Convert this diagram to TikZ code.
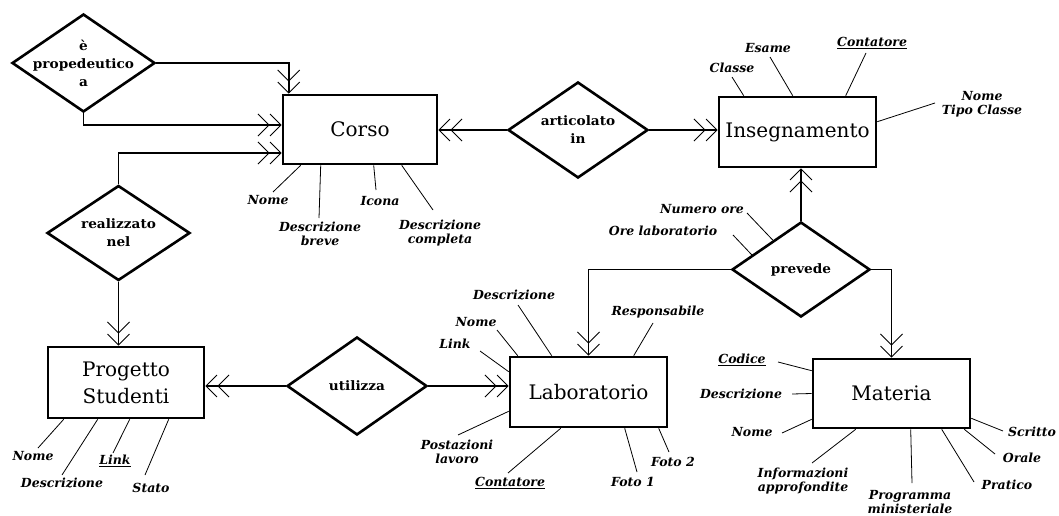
\documentclass[tikz,border=0pt]{standalone}
\usepackage{fontspec}
\setmainfont{DejaVu Serif}
\newfontfamily\relfont[FakeStretch=1.05]{DejaVu Serif}
\usetikzlibrary{shapes.geometric,arrows.meta,calc}
\begin{document}
\begin{tikzpicture}[x=1pt,y=-1pt,
 entity/.style={draw,line width=2.6pt,rectangle,inner sep=0pt,font=\fontsize{20}{27}\selectfont,align=center},
 rel/.style={draw,line width=2.6pt,diamond,inner sep=0pt,aspect=1.5},
 reltext/.style={font=\relfont\bfseries\fontsize{13}{18}\selectfont,align=center,inner sep=0pt},
 conn/.style={line width=1.8pt},
 crow/.style={conn,-{Straight Barb[length=11pt,width=22pt,line width=0.9pt] Straight Barb[length=11pt,width=22pt,line width=0.9pt]}},
 attr/.style={font=\bfseries\itshape\fontsize{12.5}{14.5}\selectfont,align=center,inner sep=0pt},
 aline/.style={line width=0.8pt}
]
\useasboundingbox[fill=white] (0,0) rectangle (1059,516);

% entities
\node[entity,minimum width=154pt,minimum height=69pt] (corso) at (360,129.5) {Corso};
\node[entity,minimum width=157pt,minimum height=70pt] (ins) at (797.5,132) {Insegnamento};
\node[entity,minimum width=156pt,minimum height=71pt] (prog) at (126,382.5) {Progetto\\Studenti};
\node[entity,minimum width=157pt,minimum height=70pt] (lab) at (588.5,392) {Laboratorio};
\node[entity,minimum width=157pt,minimum height=69pt] (mat) at (891.5,393.5) {Materia};

% relationships
\node[rel,minimum width=143pt,minimum height=98pt,label={[reltext]center:è\\propedeutico\\a}] (prop) at (83.5,63) {};
\node[rel,minimum width=143pt,minimum height=95pt,label={[reltext]center:realizzato\\nel}] (real) at (118.5,233) {};
\node[rel,minimum width=140pt,minimum height=96pt,label={[reltext]center:articolato\\in}] (art) at (578,130) {};
\node[rel,minimum width=140pt,minimum height=98pt,label={[reltext]center:utilizza}] (util) at (357,386) {};
\node[rel,minimum width=138pt,minimum height=95pt,label={[reltext]center:prevede}] (prev) at (801,269.5) {};

% connectors
\draw[crow] (prop.east) -| ($(corso.north west)+(7,0)$);
\draw[crow] (prop.south) |- ($(corso.west)+(0,-4.5)$);
\draw[crow] (real.north) |- ($(corso.west)+(0,23.5)$);
\draw[crow] (real.south) -- (real.south |- prog.north);
\draw[crow] (art.west) -- (art.west -| corso.east);
\draw[crow] (art.east) -- (art.east -| ins.west);
\draw[crow] (prev.north) -- (prev.north |- ins.south);
\draw[crow] (prev.west) -| (lab.north);
\draw[crow] (prev.east) -| (mat.north);
\draw[crow] (util.west) -- (util.west -| prog.east);
\draw[crow] (util.east) -- (util.east -| lab.west);

% Corso attributes
\node[attr] (cNome) at (268,200) {Nome};
\node[attr] (cDb) at (320,234) {Descrizione\\breve};
\node[attr] (cIc) at (380,201) {Icona};
\node[attr] (cDc) at (440,233) {Descrizione\\completa};
\draw[aline] ($(corso.south west)+(19,0)$) -- ($(cNome)+(5,-8)$);
\draw[aline] ($(corso.south west)+(39,0)$) -- ($(cDb)+(-1,-16)$);
\draw[aline] ($(corso.south west)+(92,0)$) -- ($(cIc)+(-4,-11)$);
\draw[aline] ($(corso.south west)+(120,0)$) -- ($(cDc)+(-7,-23)$);

% Insegnamento attributes
\node[attr] (iCl) at (732,68) {Classe};
\node[attr] (iEs) at (768,48) {Esame};
\node[attr] (iCo) at (872,43) {\underline{Contatore}};
\node[attr] (iNt) at (982,104) {Nome\\Tipo Classe};
\draw[aline] ($(ins.north west)+(26,0)$) -- ($(iCl)+(0,9)$);
\draw[aline] ($(ins.north west)+(75,0)$) -- ($(iEs)+(2,9)$);
\draw[aline] ($(ins.north west)+(128,0)$) -- ($(iCo)+(-6,10)$);
\draw[aline] ($(ins.north east)+(0,26)$) -- ($(iNt)+(-47,-1)$);

% prevede attributes
\node[attr] (pNo) at (702,209) {Numero ore};
\node[attr] (pOl) at (663,231) {Ore laboratorio};
\draw[aline] ($(prev.north)!0.4!(prev.west)$) -- ($(pNo)+(45,4)$);
\draw[aline] ($(prev.north)!0.7!(prev.west)$) -- ($(pOl)+(70,4)$);

% Laboratorio attributes
\node[attr] (lDe) at (514,295) {Descrizione};
\node[attr] (lNo) at (476,322) {Nome};
\node[attr] (lLi) at (455,344) {Link};
\node[attr] (lRe) at (658,312) {Responsabile};
\node[attr] (lPo) at (457,452) {Postazioni\\lavoro};
\node[attr] (lCo) at (510,483) {\underline{Contatore}};
\node[attr] (lF1) at (633,482) {Foto 1};
\node[attr] (lF2) at (673,462) {Foto 2};
\draw[aline] ($(lab.north west)+(43,0)$) -- ($(lDe)+(4,10)$);
\draw[aline] ($(lab.north west)+(9,0)$) -- ($(lNo)+(21,8)$);
\draw[aline] ($(lab.north west)+(0,16)$) -- ($(lLi)+(25,7)$);
\draw[aline] ($(lab.north west)+(125,0)$) -- ($(lRe)+(-5,11)$);
\draw[aline] ($(lab.south west)+(0,-17)$) -- ($(lPo)+(1,-17)$);
\draw[aline] ($(lab.south west)+(52,0)$) -- ($(lCo)+(-2,-10)$);
\draw[aline] ($(lab.south west)+(116,0)$) -- ($(lF1)+(4,-10)$);
\draw[aline] ($(lab.south west)+(150,0)$) -- ($(lF2)+(-4,-10)$);

% Materia attributes
\node[attr] (mCo) at (742,360) {\underline{Codice}};
\node[attr] (mDe) at (741,394) {Descrizione};
\node[attr] (mNo) at (752,432) {Nome};
\node[attr] (mIn) at (803,481) {Informazioni\\approfondite};
\node[attr] (mPr) at (910,502) {Programma\\ministeriale};
\node[attr] (mPa) at (1007,485) {Pratico};
\node[attr] (mOr) at (1022,458) {Orale};
\node[attr] (mSc) at (1032,432) {Scritto};
\draw[aline] ($(mat.north west)+(0,13)$) -- ($(mCo)+(36,2)$);
\draw[aline] (mat.west) -- ($(mDe)+(51,0)$);
\draw[aline] ($(mat.south west)+(0,-10)$) -- ($(mNo)+(30,1)$);
\draw[aline] ($(mat.south west)+(44,0)$) -- ($(mIn)+(9,-18)$);
\draw[aline] ($(mat.south west)+(99,0)$) -- ($(mPr)+(2,-19)$);
\draw[aline] ($(mat.south west)+(130,0)$) -- ($(mPa)+(-33,-3)$);
\draw[aline] ($(mat.south east)+(-7,0)$) -- ($(mOr)+(-27,-4)$);
\draw[aline] ($(mat.south east)+(0,-11)$) -- ($(mSc)+(-29,-1)$);

% Progetto Studenti attributes
\node[attr] (gNo) at (33,456) {Nome};
\node[attr] (gDe) at (62,483) {Descrizione};
\node[attr] (gLi) at (115,461) {\underline{Link}};
\node[attr] (gSt) at (151,488) {Stato};
\draw[aline] ($(prog.south west)+(17,0)$) -- ($(gNo)+(5,-8)$);
\draw[aline] ($(prog.south west)+(51,0)$) -- ($(gDe)+(0,-8)$);
\draw[aline] ($(prog.south west)+(83,0)$) -- ($(gLi)+(-2,-8)$);
\draw[aline] ($(prog.south west)+(122,0)$) -- ($(gSt)+(-6,-13)$);
\end{tikzpicture}
\end{document}
